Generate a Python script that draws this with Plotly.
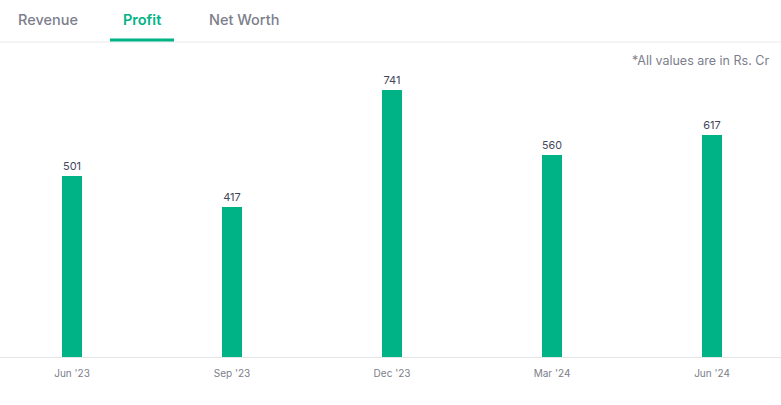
import plotly.graph_objects as go

quarters = ["Jun '23", "Sep '23", "Dec '23", "Mar '24", "Jun '24"]
profit = [501, 417, 741, 560, 617]
tabs = ["Revenue", "Profit", "Net Worth"]
note = "*All values are in Rs. Cr"

W, H = 781, 405
top, base = 70, 357
ph = base - top

def py(p):  # pixel y -> paper y
    return (base - p) / ph

fig = go.Figure(go.Bar(
    x=quarters, y=profit, width=0.125,
    marker=dict(color="#00b386", line=dict(width=0)),
    text=[str(v) for v in profit], textposition="outside",
    textfont=dict(family="Inter", size=11, color="#44475b"),
    cliponaxis=False, hoverinfo="skip",
))

fig.update_layout(
    width=W, height=H, margin=dict(l=0, r=0, t=top, b=H - base),
    paper_bgcolor="white", plot_bgcolor="white", showlegend=False,
    font=dict(family="Inter", color="#7c7e8c"),
    bargap=0,
    xaxis=dict(type="category", range=[-0.45, 4.431], showgrid=False, zeroline=False,
               showline=True, linecolor="#e6e6e6", linewidth=1,
               ticks="outside", ticklen=7, tickcolor="rgba(0,0,0,0)",
               tickfont=dict(family="Inter", size=10, color="#7c7e8c")),
    yaxis=dict(range=[0, ph / 0.3603], visible=False, fixedrange=True),
)

tab_x = [47.5, 141.5, 243.5]
for t, xc in zip(tabs, tab_x):
    active = t == "Profit"
    fig.add_annotation(text=t, x=xc / W, y=py(19.5), xref="paper", yref="paper",
                       showarrow=False, xanchor="center", yanchor="middle",
                       font=dict(family="Inter", size=14.5,
                                 color="#00b386" if active else "#7c7e8c",
                                 weight=600 if active else 500))

fig.add_shape(type="line", xref="paper", yref="paper", x0=0, x1=1, y0=py(42), y1=py(42),
              line=dict(color="#e9e9eb", width=1))
fig.add_shape(type="rect", xref="paper", yref="paper", x0=110 / W, x1=174 / W,
              y0=py(41.5), y1=py(38.5), fillcolor="#00b386", line=dict(width=0))

fig.add_annotation(text=note, x=771 / W, y=py(60), xref="paper", yref="paper",
                   showarrow=False, xanchor="right", yanchor="middle",
                   font=dict(family="Inter", size=12.5, color="#7c7e8c"))

fig.write_html("out.html", config={"displayModeBar": False})
